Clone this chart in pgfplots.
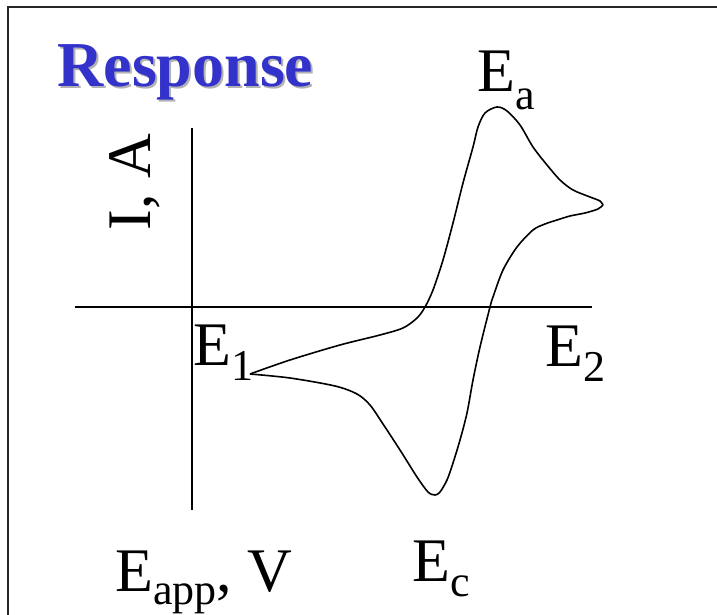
\documentclass[border=0pt]{standalone}
\usepackage{pgfplots}
\pgfplotsset{compat=1.18}
\usepackage{fontspec}
\setmainfont{Liberation Serif}
\definecolor{titleblue}{RGB}{51,51,204}
\newcommand{\lab}{\fontsize{31}{31}\selectfont}
\newcommand{\sub}[2]{\raisebox{-#2}{\fontsize{22}{22}\selectfont #1}}
\begin{document}
\begin{tikzpicture}
  \begin{axis}[
      width=358.5pt, height=307.5pt, scale only axis,
      xmin=0, xmax=717, ymin=-615, ymax=0,
      hide axis, clip=false
    ]
    % frame (only top and left edges are visible)
    \addplot[black!85, line width=1pt] coordinates {(8,-615) (8,-7) (717,-7)};
    % axes
    \addplot[black, line width=0.75pt] coordinates {(192,-128) (192,-510)};
    \addplot[black, line width=0.75pt] coordinates {(75,-307) (592,-307)};
    % forward sweep
    \addplot[black, line width=0.8pt, smooth, tension=0.5] coordinates {
      (250,-374) (290,-360) (340,-345) (380,-335) (403,-328) (417,-318)
      (425,-307) (433,-290) (443,-260) (453,-223) (463,-183) (473,-147)
      (478,-127) (485,-113) (497,-107) (507,-111) (520,-125) (533,-147)
      (547,-165) (560,-180) (573,-190) (590,-197) (600,-201) (603,-205)};
    % reverse sweep
    \addplot[black, line width=0.8pt, smooth, tension=0.5] coordinates {
      (603,-205) (598,-209) (585,-213) (570,-216) (557,-220) (545,-224)
      (533,-230) (517,-247) (503,-270) (493,-297) (490,-307) (480,-347)
      (473,-380) (467,-413) (460,-440) (453,-463) (447,-480) (440,-492)
      (435,-495) (428,-492) (417,-477) (400,-450) (383,-424) (370,-405)
      (357,-394) (335,-386) (290,-378) (250,-374)};
    % labels
    \node[anchor=base west, inner sep=0, text=black!30]
      at (axis cs:59,-89) {\fontsize{32}{32}\selectfont\bfseries Response};
    \node[anchor=base west, inner sep=0, text=titleblue]
      at (axis cs:57,-87) {\fontsize{32}{32}\selectfont\bfseries Response};
    \node[anchor=base west, inner sep=0] at (axis cs:477,-92) {\lab E\sub{a}{9pt}};
    \node[anchor=base west, inner sep=0] at (axis cs:193,-366) {\lab E\sub{1}{7.5pt}};
    \node[anchor=base west, inner sep=0] at (axis cs:545,-367) {\lab E\sub{2}{7.5pt}};
    \node[anchor=base west, inner sep=0] at (axis cs:412,-582) {\lab E\sub{c}{7.5pt}};
    \node[anchor=base west, inner sep=0] at (axis cs:115,-592) {\lab E\sub{app}{6.5pt}, V};
    \node[anchor=base, rotate=90, inner sep=0] at (axis cs:150,-182) {\lab I, A};
  \end{axis}
  \pgfresetboundingbox
  \path[use as bounding box] (current axis.south west) rectangle (current axis.north east);
\end{tikzpicture}
\end{document}
